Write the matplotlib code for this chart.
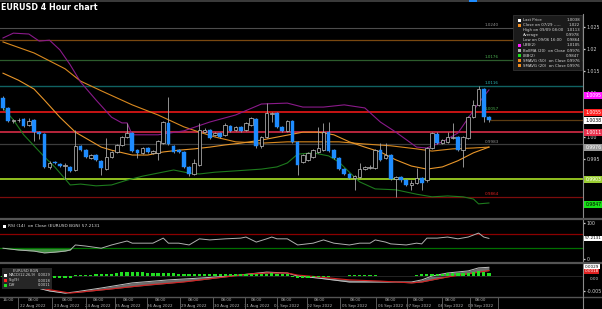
import matplotlib
matplotlib.use("Agg")
import matplotlib.pyplot as plt
from matplotlib.transforms import blended_transform_factory as btf
from matplotlib.patches import Rectangle
from matplotlib.lines import Line2D
import numpy as np

plt.rcParams['font.family'] = ['DejaVu Sans']

# ---------------- data ----------------
opens = [1.0088, 1.0066, 1.0036, 1.0038, 1.0041, 1.0027, 1.0039, 1.0011, 1.0007, 0.9932,
         0.9943, 0.9939, 0.9934, 0.9932, 0.9925, 0.9980, 0.9970, 0.9952, 0.9959, 0.9945,
         0.9927, 0.9955, 0.9966, 0.9982, 1.0000, 1.0009, 0.9970, 0.9964, 0.9975, 0.9964,
         0.9964, 0.9986, 1.0032, 0.9980, 0.9970, 0.9966, 0.9932, 0.9916, 0.9936, 1.0011,
         1.0016, 1.0005, 1.0009, 1.0005, 1.0025, 1.0016, 1.0023, 1.0016, 1.0027, 1.0041,
         0.9980, 1.0000, 1.0052, 1.0055, 1.0023, 1.0014, 1.0036, 0.9989, 0.9943, 0.9948,
         0.9955, 0.9966, 0.9970, 1.0011, 0.9970, 0.9952, 0.9927, 0.9916, 0.9907, 0.9909,
         0.9927, 0.9930, 0.9930, 0.9970, 0.9952, 0.9959, 0.9904, 0.9909, 0.9902, 0.9891,
         0.9895, 0.9907, 0.9902, 0.9975, 1.0007, 0.9986, 0.9989, 0.9998, 1.0000, 0.9970,
         0.9998, 1.0045, 1.0073, 1.0109, 1.0045]
highs = [1.0093, 1.0068, 1.0041, 1.0043, 1.0043, 1.0043, 1.0041, 1.0014, 1.0009, 0.9945,
         0.9945, 0.9941, 0.9941, 0.9934, 1.0016, 0.9982, 0.9972, 0.9962, 0.9961, 0.9948,
         0.9998, 0.9968, 0.9984, 1.0002, 1.0032, 1.0011, 0.9972, 0.9977, 0.9977, 0.9970,
         0.9993, 1.0036, 1.0091, 0.9982, 0.9972, 0.9968, 0.9934, 0.9950, 1.0032, 1.0020,
         1.0018, 1.0011, 1.0011, 1.0032, 1.0027, 1.0025, 1.0025, 1.0034, 1.0045, 1.0043,
         1.0002, 1.0077, 1.0057, 1.0057, 1.0025, 1.0039, 1.0039, 0.9991, 0.9961, 0.9966,
         0.9972, 1.0023, 1.0032, 1.0034, 0.9972, 0.9955, 0.9930, 0.9918, 0.9914, 0.9941,
         0.9934, 0.9936, 0.9972, 0.9986, 0.9986, 0.9961, 0.9911, 0.9911, 0.9904, 0.9902,
         0.9930, 0.9909, 0.9977, 1.0011, 1.0011, 0.9995, 1.0011, 1.0032, 1.0002, 1.0002,
         1.0048, 1.0084, 1.0116, 1.0111, 1.0047]
lows = [1.0061, 1.0034, 1.0032, 1.0034, 1.0023, 1.0025, 0.9991, 0.9995, 0.9930, 0.9927,
        0.9939, 0.9932, 0.9904, 0.9920, 0.9923, 0.9968, 0.9952, 0.9950, 0.9945, 0.9914,
        0.9925, 0.9952, 0.9964, 0.9980, 0.9998, 0.9966, 0.9952, 0.9961, 0.9964, 0.9961,
        0.9948, 0.9984, 0.9982, 0.9964, 0.9964, 0.9930, 0.9912, 0.9914, 0.9934, 1.0009,
        0.9995, 1.0002, 0.9998, 1.0002, 1.0011, 1.0014, 1.0011, 1.0014, 1.0025, 0.9975,
        0.9975, 0.9998, 1.0034, 1.0020, 1.0011, 1.0011, 0.9986, 0.9914, 0.9941, 0.9945,
        0.9952, 0.9964, 0.9968, 0.9966, 0.9950, 0.9925, 0.9914, 0.9904, 0.9879, 0.9907,
        0.9925, 0.9927, 0.9927, 0.9945, 0.9950, 0.9902, 0.9864, 0.9898, 0.9889, 0.9879,
        0.9893, 0.9879, 0.9898, 0.9973, 0.9984, 0.9984, 0.9986, 0.9995, 0.9968, 0.9932,
        0.9995, 1.0043, 1.0070, 1.0034, 1.0034]
closes = [1.0066, 1.0036, 1.0038, 1.0039, 1.0025, 1.0036, 1.0011, 1.0007, 0.9932, 0.9941,
          0.9941, 0.9934, 0.9936, 0.9923, 0.9980, 0.9970, 0.9955, 0.9959, 0.9948, 0.9930,
          0.9955, 0.9966, 0.9982, 1.0000, 1.0009, 0.9968, 0.9964, 0.9975, 0.9966, 0.9968,
          0.9991, 1.0034, 0.9984, 0.9966, 0.9966, 0.9932, 0.9916, 0.9941, 1.0016, 1.0016,
          0.9998, 1.0009, 1.0000, 1.0027, 1.0014, 1.0023, 1.0014, 1.0032, 1.0043, 0.9980,
          1.0000, 1.0055, 1.0055, 1.0023, 1.0014, 1.0036, 0.9989, 0.9936, 0.9959, 0.9964,
          0.9970, 0.9975, 1.0011, 0.9968, 0.9952, 0.9927, 0.9916, 0.9907, 0.9911, 0.9927,
          0.9932, 0.9932, 0.9970, 0.9948, 0.9959, 0.9904, 0.9909, 0.9902, 0.9891, 0.9895,
          0.9907, 0.9895, 0.9975, 1.0009, 0.9986, 0.9993, 1.0000, 1.0000, 0.9970, 1.0000,
          1.0045, 1.0073, 1.0109, 1.0045, 1.0038]

ubb_idx = [0, 2, 5, 7, 9, 11, 13, 15, 18, 21, 23, 24, 25, 30, 35, 40, 45, 50, 55, 58,
           62, 66, 70, 73, 76, 80, 82, 85, 88, 90, 92, 94]
ubb_val = [1.0225, 1.0236, 1.0234, 1.0218, 1.0220, 1.0198, 1.0164, 1.0125, 1.0084, 1.0045,
           1.0032, 1.0032, 1.0005, 1.0005, 1.0014, 1.0034, 1.0050, 1.0075, 1.0077, 1.0068,
           1.0068, 1.0073, 1.0066, 1.0034, 1.0011, 0.9977, 0.9975, 0.9989, 1.0009, 1.0043,
           1.0077, 1.0107]
lbb_idx = [0, 2, 4, 6, 8, 10, 12, 13, 15, 18, 21, 24, 27, 30, 33, 36, 38, 41, 45, 50,
           53, 55, 57, 60, 63, 65, 67, 69, 72, 76, 80, 83, 86, 89, 91, 92, 94]
lbb_val = [1.0066, 1.0039, 1.0005, 0.9980, 0.9955, 0.9932, 0.9905, 0.9891, 0.9893, 0.9889,
           0.9891, 0.9902, 0.9911, 0.9918, 0.9925, 0.9918, 0.9916, 0.9920, 0.9923, 0.9927,
           0.9932, 0.9941, 0.9961, 0.9964, 0.9957, 0.9943, 0.9920, 0.9898, 0.9882, 0.9880,
           0.9870, 0.9864, 0.9866, 0.9864, 0.9859, 0.9848, 0.9850]
sma20_idx = [0, 3, 6, 8, 11, 14, 19, 21, 25, 28, 31, 34, 37, 40, 43, 46, 50, 54, 58, 61,
             64, 67, 70, 73, 76, 79, 82, 85, 88, 91, 94]
sma20_val = [1.0145, 1.0129, 1.0109, 1.0084, 1.0045, 1.0011, 0.9977, 0.9970, 0.9959, 0.9959,
             0.9966, 0.9970, 0.9973, 0.9977, 0.9982, 0.9986, 0.9993, 1.0002, 1.0011, 1.0011,
             1.0005, 0.9989, 0.9977, 0.9966, 0.9948, 0.9934, 0.9927, 0.9932, 0.9946, 0.9964,
             0.9977]
sma50_idx = [0, 6, 12, 15, 19, 25, 30, 35, 38, 41, 45, 50, 55, 60, 65, 70, 75, 80, 83, 87,
             91, 94]
sma50_val = [1.0216, 1.0191, 1.0155, 1.0127, 1.0105, 1.0073, 1.0050, 1.0023, 1.0011, 1.0000,
             0.9989, 0.9986, 0.9989, 0.9989, 0.9989, 0.9984, 0.9980, 0.9973, 0.9968, 0.9973,
             0.9975, 0.9977]

rsi_idx = [0, 3, 6, 8, 10, 12, 13, 14, 16, 19, 21, 24, 25, 27, 29, 31, 32, 34, 36, 38,
           40, 43, 46, 47, 49, 51, 52, 53, 55, 57, 60, 62, 64, 67, 69, 71, 72, 74, 75, 78,
           80, 81, 82, 84, 86, 88, 90, 92, 93, 94]
rsi_val = [30, 25, 22, 17, 19, 22, 25, 39, 36, 30, 39, 50, 44, 44, 44, 58, 44, 44, 39, 56,
           53, 56, 58, 61, 47, 56, 61, 56, 56, 39, 44, 53, 44, 39, 44, 44, 53, 47, 42, 39,
           44, 42, 58, 58, 61, 56, 61, 72, 61, 57.2131]

macd_idx = [0, 6, 9, 12, 14, 19, 25, 32, 38, 44, 51, 55, 57, 61, 67, 73, 79, 81, 83, 86,
            90, 92, 94]
macd_val = [-0.0033, -0.0037, -0.0050, -0.0057, -0.0053, -0.0040, -0.0023, -0.0013, -0.0007,
            0.0000, 0.0013, 0.0010, 0.0000, -0.0007, -0.0020, -0.0020, -0.0020, -0.0013,
            0.0000, 0.0010, 0.0017, 0.0027, 0.0029]
sig_idx = [0, 7, 13, 21, 28, 35, 41, 48, 51, 55, 57, 61, 67, 73, 79, 81, 86, 91, 94]
sig_val = [-0.0033, -0.0040, -0.0057, -0.0043, -0.0030, -0.0020, -0.0007, 0.0007, 0.0010,
           0.0010, 0.0003, -0.0003, -0.0013, -0.0017, -0.0023, -0.0020, -0.0003, 0.0010, 0.0018]
diff_val = [-0.0004, -0.0004, -0.0004, -0.0004, -0.0005, -0.0005, -0.0005, -0.0006, -0.0007, -0.0007,
            -0.0007, -0.0008, -0.0007, -0.0006, 0.0002, 0.0002, 0.0003, 0.0003, 0.0006, 0.0007,
            0.0007, 0.0008, 0.0009, 0.0012, 0.0013, 0.0014, 0.0013, 0.0012, 0.0011, 0.0010,
            0.0010, 0.0010, 0.0009, 0.0009, 0.0007, 0.0006, 0.0006, 0.0006, 0.0006, 0.0006,
            0.0006, 0.0006, 0.0006, 0.0006, 0.0006, 0.0006, 0.0006, 0.0006, 0.0007, 0.0007,
            0.0007, 0.0008, 0.0009, 0.0008, 0.0008, 0.0007, -0.0004, -0.0006, -0.0007, -0.0006,
            -0.0005, -0.0002, -0.0002, -0.0002, -0.0001, -0.0001, -0.0001, 0.0002, 0.0002, 0.0002,
            0.0002, 0.0002, 0.0002, 0.0001, 0.0001, 0.0001, 0.0001, 0.0001, 0.0001, 0.0001,
            0.0002, 0.0006, 0.0007, 0.0007, 0.0008, 0.0008, 0.0009, 0.0009, 0.0009, 0.0010,
            0.0010, 0.0013, 0.0016, 0.0014, 0.0011]

level_vals = [1.0248, 1.0220, 1.0176, 1.0116, 1.0057, 1.0011, 0.9983, 0.9904, 0.9864]
level_texts = ["1.0240", "", "1.0176", "1.0116", "1.0057", "", "0.9983", "", "0.9864"]
last_price = 1.0038

price_ticks = [1.025, 1.02, 1.015, 1.01, 1.00, 0.995]
price_tick_labels = ["1.025", "1.02", "1.015", "1.01", "1.00", "0.995"]
box_vals = [1.0095, 1.0055, 1.0038, 1.0011, 0.9976, 0.9903, 0.9847]
box_texts = ["1.0095", "1.0055", "1.0038", "1.0011", "0.9976", "0.9903", "0.9847"]

legend_labels = ["Last Price", "Close on 07/29 -----", "High on 09/09 08:00", "Average",
                 "Low on 09/06 16:00", "UBB(2)", "BollMA (20)  on Close", "LBB(2)",
                 "SMAVG (50)  on Close", "SMAVG (20)  on Close"]
legend_values = ["1.0038", "1.022", "1.0113", "0.9978", "0.9864", "1.0105", "0.9976",
                 "0.9847", "0.9976", "0.9976"]

date_pos = [1.0, 5.8, 12.4, 18.4, 24.2, 30.4, 36.9, 43.3, 49.1, 54.9, 61.3, 68.1, 74.9, 80.3, 86.5, 92.3]
date_labels = ["16:00", "08:00\n22 Aug 2022", "08:00\n23 Aug 2022", "08:00\n24 Aug 2022",
               "08:00\n25 Aug 2022", "08:00\n26 Aug 2022", "08:00\n29 Aug 2022",
               "08:00\n30 Aug 2022", "08:00\n31 Aug 2022", "08:00\n01 Sep 2022",
               "08:00\n02 Sep 2022", "08:00\n05 Sep 2022", "08:00\n06 Sep 2022",
               "08:00\n07 Sep 2022", "08:00\n08 Sep 2022", "08:00\n09 Sep 2022"]
day_seps = [2.9, 9.5, 16.1, 21.7, 27.9, 34.2, 40.6, 46.8, 53.0, 58.8, 65.2, 72.1, 78.1, 84.9, 90.3, 95.7]

# ---------------- figure ----------------
W, H = 602, 309
fig = plt.figure(figsize=(W / 100, H / 100), dpi=100, facecolor='black')


def fx(p):
    return p / W


def fy(p):
    return 1 - p / H


PR = 583
XL = (-0.58, 112.2)
ax = fig.add_axes([0, fy(218), fx(PR), (218 - 14) / H])
axr = fig.add_axes([0, fy(263), fx(PR), (263 - 219) / H])
axm = fig.add_axes([0, fy(296), fx(PR), (296 - 263) / H])
for a in (ax, axr, axm):
    a.set_facecolor('black')
    for s in ('left', 'top', 'bottom'):
        a.spines[s].set_visible(False)
    a.spines['right'].set_color('#8a8a8a')
    a.spines['right'].set_linewidth(0.8)
    a.set_xlim(*XL)
    a.yaxis.tick_right()
    a.tick_params(axis='y', colors='#d0d0d0', labelcolor='#d0d0d0', labelsize=3.4,
                  length=1.6, width=0.9, pad=1.2)
    a.tick_params(axis='x', bottom=False, labelbottom=False)

# ---- main price panel ----
ax.set_ylim(0.98159, 1.02795)
ax.set_yticks(price_ticks)
ax.set_yticklabels(price_tick_labels)

lvl_colors = ['#4d4d4d', '#7a4810', '#2c5c2c', '#106262', '#e81818', '#e8304c', '#3c3c3c',
              '#9ccf22', '#7c0c0c']
lvl_lw = [0.8, 0.9, 0.9, 1.0, 1.2, 1.1, 0.9, 1.3, 0.9]
lvl_txt_colors = ['#909090', '#c08030', '#4caf50', '#2bb5b5', '#4caf50', '#e8304c', '#909090',
                  '#9ccf22', '#e02020']
for v, col, lw, t, tc in zip(level_vals, lvl_colors, lvl_lw, level_texts, lvl_txt_colors):
    ax.axhline(v, color=col, lw=lw, zorder=1)
    if t:
        ax.text(93.2, v + 0.00012, t, color=tc, fontsize=3.0, ha='left', va='bottom', zorder=6)

x = np.arange(len(closes))
o = np.array(opens)
c = np.array(closes)
h = np.array(highs)
l = np.array(lows)
ax.hlines(last_price, x[-1], XL[1], color='#5c3c12', lw=0.9, zorder=1)

ax.plot(sma50_idx, sma50_val, color='#d9891f', lw=0.8, zorder=2)
ax.plot(sma20_idx, sma20_val, color='#e8962a', lw=0.8, zorder=2)
ax.plot(ubb_idx, ubb_val, color='#8a1a8a', lw=0.8, zorder=2)
ax.plot(lbb_idx, lbb_val, color='#1d7a1d', lw=0.8, zorder=2)

up = c >= o
blow = np.minimum(o, c)
bh = np.maximum(np.abs(c - o), 0.00012)
ax.vlines(x, l, h, color='#a8a8a8', lw=0.6, zorder=3)
ax.bar(x[up], bh[up], bottom=blow[up], width=0.7, color='black', edgecolor='#c4c4c4',
       linewidth=0.5, zorder=4)
ax.bar(x[~up], bh[~up], bottom=blow[~up], width=0.7, color='#1e8cff', edgecolor='#1e8cff',
       linewidth=0.3, zorder=4)

# right-side value boxes
box_fc = ['#ff14ff', '#ff2020', '#ffffff', '#e8304c', '#9a9a9a', '#9acd32', '#19e019']
box_tc = ['#ffffff', '#ffffff', '#000000', '#ffffff', '#ffffff', '#ffffff', '#000000']
tb = btf(ax.transAxes, ax.transData)
for v, t, fcol, tcol in zip(box_vals, box_texts, box_fc, box_tc):
    ax.text(1.004, v, t, transform=tb, fontsize=3.3, color=tcol, ha='left', va='center',
            clip_on=False, zorder=10,
            bbox=dict(boxstyle='square,pad=0.2', fc=fcol, ec='none'))

# ---- RSI panel ----
axr.set_ylim(-11, 111)
axr.set_yticks([0, 100])
axr.set_yticklabels(["0", "100"])
axr.axhline(70, color='#8b0000', lw=0.9)
axr.axhline(30, color='#007000', lw=0.9)
rsi_x = np.array(rsi_idx, dtype=float)
rsi_y = np.array(rsi_val, dtype=float)
axr.fill_between(rsi_x, rsi_y, 30, where=rsi_y < 30, interpolate=True, color='#3f8f3f', lw=0)
axr.plot(rsi_x, rsi_y, color='#b0b0b0', lw=0.7)
tbr = btf(axr.transAxes, axr.transData)
axr.text(1.003, rsi_val[-1], "57.2131", transform=tbr, fontsize=3.0, color='black',
         ha='left', va='center', clip_on=False, zorder=10,
         bbox=dict(boxstyle='square,pad=0.15', fc='#ffffff', ec='none'))
fig.patches.append(Rectangle((fx(3), fy(228)), fx(3), 3 / H, transform=fig.transFigure,
                             fc='white', ec='none'))
fig.text(fx(8), fy(226), "RSI (14)  on Close (EURUSD BGN) 57.2131", color='#d8d8d8',
         fontsize=3.2, ha='left', va='center')

# ---- MACD panel ----
axm.set_ylim(-0.00667, 0.00433)
axm.set_yticks([-0.005])
axm.set_yticklabels(["-0.005"])
axm.axhline(0, color='#2a2a2a', lw=0.6)
mx = np.array(macd_idx, dtype=float)
sx = np.array(sig_idx, dtype=float)
axm.fill_between(mx, macd_val, np.interp(mx, sx, sig_val), color='#7a7a7a', lw=0, alpha=0.9)
axm.plot(mx, macd_val, color='#c0c0c0', lw=0.7)
axm.plot(sx, sig_val, color='#d42020', lw=0.8)
axm.bar(x, diff_val, width=0.62, color='#22dd22', zorder=4)
tbm = btf(axm.transAxes, axm.transData)
axm.text(1.003, 0.0031, "0.0029", transform=tbm, fontsize=3.0, color='black', ha='left',
         va='center', clip_on=False, zorder=10,
         bbox=dict(boxstyle='square,pad=0.12', fc='#ffffff', ec='none'))
axm.text(1.003, 0.0015, "0.0018", transform=tbm, fontsize=3.0, color='white', ha='left',
         va='center', clip_on=False, zorder=11,
         bbox=dict(boxstyle='square,pad=0.12', fc='#e02020', ec='none'))
axm.text(1.012, -0.0002, "0.00", transform=tbm, fontsize=3.0, color='#d0d0d0', ha='left',
         va='top', clip_on=False, zorder=9)

fig.patches.append(Rectangle((fx(2), fy(289)), fx(50), 21 / H, transform=fig.transFigure,
                             fc='#262626', ec='none', zorder=5))
fig.text(fx(13), fy(270.5), "EURUSD BGN", color='#d0d0d0', fontsize=2.7, ha='left', va='center', zorder=6)
mleg = [("MACD(12,26,9)", "0.0029", '#ffffff'), ("Sig(9)", "0.0018", '#ff2020'),
        ("Diff", "0.0011", '#22dd22')]
for k, (lab, val, col) in enumerate(mleg):
    yy = 275.5 + k * 5
    fig.patches.append(Rectangle((fx(4), fy(yy + 1.6)), fx(3.2), 3.2 / H,
                                 transform=fig.transFigure, fc=col, ec='none', zorder=6))
    fig.text(fx(8.5), fy(yy), lab, color='#d8d8d8', fontsize=2.6, ha='left', va='center', zorder=6)
    fig.text(fx(51), fy(yy), val, color='#d8d8d8', fontsize=2.6, ha='right', va='center', zorder=6)

# date axis
axm.tick_params(axis='x', bottom=True, labelbottom=True, length=0, labelsize=2.9,
                labelcolor='#b8b8b8', pad=1.4)
axm.set_xticks(date_pos)
axm.set_xticklabels(date_labels, linespacing=1.6, va='top')
tsep = btf(axm.transData, axm.transAxes)
for s in day_seps:
    axm.add_line(Line2D([s, s], [-0.02, -0.4], transform=tsep, color='#5a5a5a', lw=0.7,
                        clip_on=False))

# separators and decoration
for yy, lw in ((218.5, 1.6), (263.2, 1.6), (296.6, 1.0)):
    fig.add_artist(Line2D([0, 1], [fy(yy), fy(yy)], color='#545454', lw=lw))
fig.add_artist(Line2D([fx(PR), fx(PR)], [fy(296.6), fy(309)], color='#8a8a8a', lw=0.8))
fig.patches.append(Rectangle((0, fy(2)), 1, 2 / H, transform=fig.transFigure,
                             fc='#3a3a3a', ec='none'))
fig.patches.append(Rectangle((fx(469), fy(2)), fx(8), 2 / H, transform=fig.transFigure,
                             fc='#1e8cff', ec='none'))
fig.text(fx(1), fy(7.5), "EURUSD 4 Hour chart", color='white', fontsize=5.8,
         fontweight='bold', ha='left', va='center')

# main legend
fig.patches.append(Rectangle((fx(513), fy(70)), fx(69), 55 / H, transform=fig.transFigure,
                             fc='#1b1b1b', ec='#3a3a3a', lw=0.5, zorder=5))
leg_cols = ['#ffffff', '#f08c1e', None, None, None, '#ff14ff', '#b0b0b0', '#19e019',
            '#f08c1e', '#f08c1e']
for k, (lab, val, col) in enumerate(zip(legend_labels, legend_values, leg_cols)):
    yy = 20 + k * 5.1
    if col:
        fig.patches.append(Rectangle((fx(517.5), fy(yy + 1.5)), fx(3), 3 / H,
                                     transform=fig.transFigure, fc=col, ec='none', zorder=6))
    fig.text(fx(523), fy(yy), lab, color='#d8d8d8', fontsize=2.8, ha='left', va='center', zorder=7)
    fig.text(fx(580), fy(yy), val, color='#d8d8d8', fontsize=2.8, ha='right', va='center', zorder=7)

fig.savefig("out.png", dpi=100, facecolor='black')
